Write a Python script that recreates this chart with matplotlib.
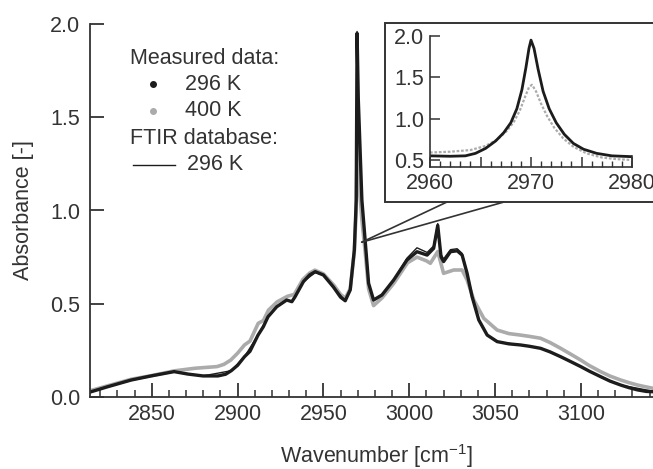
import matplotlib
matplotlib.use("Agg")
import matplotlib.pyplot as plt
from matplotlib.patches import Rectangle, ConnectionPatch
from matplotlib.lines import Line2D
from matplotlib.ticker import MultipleLocator

plt.rcParams['font.family'] = ['Liberation Sans', 'DejaVu Sans']
plt.rcParams['mathtext.fontset'] = 'custom'
plt.rcParams['mathtext.rm'] = 'Liberation Sans'

# ---- main spectrum ----
wn_296 = [2814.6, 2824.3, 2838, 2849.6, 2863, 2871, 2879.8, 2888.5, 2893, 2896.3, 2900, 2904,
          2907.2, 2911.9, 2915, 2917.7, 2922.8, 2928.6, 2931.6, 2933.5, 2938.3, 2942, 2945.2,
          2950, 2955.8, 2960, 2962.7, 2965.6, 2968, 2969.1, 2969.6, 2970.3, 2972.4, 2974.3,
          2976.3, 2979.2, 2984.1, 2990.9, 2998.7, 3004.5, 3010.4, 3014.2, 3016.6, 3018.5,
          3020, 3024, 3027.9, 3030.8, 3033.7, 3036.6, 3040.5, 3045.4, 3051.2, 3058, 3064.8,
          3070, 3076.5, 3082, 3088.2, 3094, 3099.9, 3105, 3111.5, 3117, 3123.2, 3128, 3133, 3138, 3142.5]
abs_296 = [0.028, 0.055, 0.091, 0.113, 0.136, 0.123, 0.113, 0.113, 0.122, 0.141, 0.17, 0.216,
           0.245, 0.332, 0.377, 0.43, 0.484, 0.52, 0.511, 0.538, 0.618, 0.655, 0.672,
           0.654, 0.59, 0.535, 0.516, 0.574, 0.788, 1.056, 1.95, 1.6, 1.056, 0.84,
           0.61, 0.52, 0.547, 0.627, 0.735, 0.779, 0.761, 0.797, 0.92, 0.752,
           0.726, 0.779, 0.784, 0.761, 0.663, 0.538, 0.413, 0.332, 0.297, 0.285, 0.279,
           0.272, 0.261, 0.242, 0.216, 0.19, 0.163, 0.138, 0.109, 0.085, 0.064, 0.05, 0.038, 0.03, 0.028]

wn_400 = [2814.6, 2824.3, 2838, 2850, 2863, 2875, 2888, 2892, 2896, 2900, 2904, 2907.2,
          2912, 2915, 2918, 2923, 2929, 2933, 2938, 2942, 2945, 2950, 2956, 2960,
          2962.7, 2965.6, 2968, 2969.1, 2969.7, 2970.4, 2972.4, 2974.3, 2976.3, 2979.2,
          2984, 2991, 2999, 3004.5, 3010, 3012.3, 3016.6, 3020, 3025.9, 3030.8,
          3033.7, 3037.6, 3043.4, 3051.2, 3058, 3064.8, 3070, 3076.5, 3082, 3088.2, 3094, 3099.9,
          3105, 3111.5, 3117, 3123.2, 3128, 3133, 3138, 3142.5]
abs_400 = [0.035, 0.06, 0.095, 0.115, 0.14, 0.154, 0.163, 0.175, 0.198, 0.235, 0.279, 0.30,
           0.395, 0.41, 0.466, 0.51, 0.54, 0.55, 0.63, 0.665, 0.68, 0.66, 0.60, 0.55,
           0.53, 0.58, 0.78, 1.0, 1.4, 1.2, 0.95, 0.78, 0.58, 0.49,
           0.53, 0.61, 0.72, 0.75, 0.73, 0.717, 0.78, 0.663, 0.681, 0.681,
           0.627, 0.52, 0.422, 0.359, 0.34, 0.332, 0.325, 0.315, 0.292, 0.261, 0.23, 0.198,
           0.168, 0.136, 0.112, 0.091, 0.077, 0.064, 0.054, 0.046]

wn_ftir = [2814.6, 2838, 2849.6, 2863, 2879.8, 2896.3, 2904, 2911.9, 2917.7, 2922.8,
           2928.6, 2931.6, 2933.5, 2938.3, 2945.2, 2950, 2955.8, 2962.7, 2965.6, 2968,
           2969.1, 2969.6, 2970.3, 2972.4, 2974.3, 2976.3, 2979.2, 2984.1, 2990.9, 2998.7,
           3004.5, 3010.4, 3014.2, 3016.6, 3018.5, 3020, 3024, 3027.9, 3030.8, 3033.7,
           3036.6, 3040.5, 3045.4, 3051.2, 3064.8, 3076.5, 3088.2, 3099.9, 3111.5, 3123.2,
           3142.5]
abs_ftir = [0.03, 0.09, 0.113, 0.136, 0.113, 0.141, 0.216, 0.332, 0.43, 0.484,
            0.52, 0.511, 0.538, 0.618, 0.667, 0.654, 0.59, 0.516, 0.574, 0.788,
            1.056, 1.96, 1.6, 1.056, 0.84, 0.61, 0.52, 0.547, 0.627, 0.745,
            0.80, 0.775, 0.81, 0.93, 0.765, 0.74, 0.79, 0.795, 0.77, 0.663,
            0.538, 0.413, 0.332, 0.297, 0.279, 0.261, 0.216, 0.163, 0.109, 0.064,
            0.03]

# ---- inset (zoom on the 2970 peak) ----
wn_in_296 = [2960, 2962, 2963.5, 2964.5, 2965.5, 2966.5, 2967.3, 2968, 2968.6, 2969.1,
             2969.5, 2969.8, 2970, 2970.3, 2970.7, 2971.2, 2971.8, 2972.5, 2973.3, 2974.2,
             2975.2, 2976.5, 2978, 2980]
abs_in_296 = [0.55, 0.545, 0.55, 0.58, 0.64, 0.73, 0.83, 0.95, 1.12, 1.35,
              1.62, 1.85, 1.95, 1.85, 1.60, 1.33, 1.12, 0.95, 0.81, 0.70,
              0.63, 0.58, 0.55, 0.54]
wn_in_400 = [2960, 2962, 2964, 2965.5, 2966.7, 2967.6, 2968.3, 2968.9, 2969.4, 2969.8,
             2970.1, 2970.5, 2971, 2971.6, 2972.3, 2973.2, 2974.2, 2975.5, 2977, 2978.5,
             2980]
abs_in_400 = [0.59, 0.60, 0.62, 0.67, 0.75, 0.85, 0.96, 1.10, 1.26, 1.38,
              1.41, 1.33, 1.18, 1.03, 0.89, 0.76, 0.66, 0.58, 0.53, 0.51,
              0.50]

BLACK = '#1c1c1c'
GRAY = '#ababab'
AX = '#333333'
FS = 15.5
W, H = 653, 469


def fx(px):
    return px / W


def fy(py):
    return 1 - py / H


fig = plt.figure(figsize=(6.53, 4.69), dpi=100)
ax = fig.add_axes([fx(90), fy(397), 1 - fx(90), fy(24) - fy(397)])

ax.plot(wn_400, abs_400, color=GRAY, lw=2.6, solid_joinstyle='round')
ax.plot(wn_296, abs_296, color=BLACK, lw=2.4, solid_joinstyle='round')
ax.plot(wn_ftir, abs_ftir, color=BLACK, lw=1.0)

ax.set_xlim(2814, 3142)
ax.set_ylim(0, 2.0)
ax.xaxis.set_major_locator(MultipleLocator(50))
ax.xaxis.set_minor_locator(MultipleLocator(10))
ax.yaxis.set_major_locator(MultipleLocator(0.5))
ax.yaxis.set_major_formatter(plt.FuncFormatter(lambda v, p: f"{v:.1f}"))
for s in ['top', 'right']:
    ax.spines[s].set_visible(False)
for s in ['left', 'bottom']:
    ax.spines[s].set_color(AX)
    ax.spines[s].set_linewidth(1.3)
ax.tick_params(which='major', direction='in', length=10, width=1.3, color=AX,
               labelsize=FS, labelcolor=AX, pad=5)
ax.tick_params(which='minor', direction='in', length=5, width=1.1, color=AX)
ax.tick_params(axis='y', pad=7)

fig.text(fx(23), fy(210), 'Absorbance [-]', rotation=90, ha='center', va='center',
         fontsize=FS, color=AX)
fig.text(fx(376), fy(456), 'Wavenumber [cm$^{-1}$]', ha='center', va='center',
         fontsize=FS, color=AX)

# legend drawn by hand
fig.text(fx(130), fy(58), 'Measured data:', ha='left', va='center', fontsize=FS, color=AX)
fig.text(fx(185), fy(84), '296 K', ha='left', va='center', fontsize=FS, color=AX)
fig.text(fx(185), fy(111), '400 K', ha='left', va='center', fontsize=FS, color=AX)
fig.text(fx(130), fy(138), 'FTIR database:', ha='left', va='center', fontsize=FS, color=AX)
fig.text(fx(187), fy(165), '296 K', ha='left', va='center', fontsize=FS, color=AX)
fig.add_artist(Line2D([fx(153)], [fy(84)], marker='o', ms=4, color=BLACK, lw=0))
fig.add_artist(Line2D([fx(153)], [fy(111)], marker='o', ms=4, color=GRAY, lw=0))
fig.add_artist(Line2D([fx(133), fx(175)], [fy(165), fy(165)], color=BLACK, lw=1.0))

# inset frame
box = Rectangle((fx(385), fy(202)), 1.1 - fx(385), fy(23) - fy(202),
                transform=fig.transFigure, facecolor='white', edgecolor=AX,
                lw=1.4, zorder=1)
fig.add_artist(box)
for xb in [447, 504]:
    con = ConnectionPatch(xyA=(2972.3, 0.83), coordsA=ax.transData,
                          xyB=(fx(xb), fy(202)), coordsB=fig.transFigure,
                          color=AX, lw=1.2, zorder=1)
    fig.add_artist(con)

ins = fig.add_axes([fx(430), fy(167), fx(632) - fx(430), fy(36) - fy(167)])
ins.set_zorder(2)
ins.patch.set_alpha(0)
ins.plot(wn_in_400, abs_in_400, color=GRAY, lw=1.6, ls=(0, (1.2, 0.8)))
ins.plot(wn_in_296, abs_in_296, color=BLACK, lw=2.0)
ins.set_xlim(2960, 2980)
ins.set_ylim(0.415, 2.0)
ins.xaxis.set_major_locator(MultipleLocator(5))
ins.xaxis.set_minor_locator(MultipleLocator(1))
ins.xaxis.set_major_formatter(plt.FuncFormatter(lambda v, p: f"{v:.0f}" if round(v) % 10 == 0 else ""))
ins.yaxis.set_major_locator(MultipleLocator(0.5))
ins.yaxis.set_major_formatter(plt.FuncFormatter(lambda v, p: f"{v:.1f}"))
ins.spines['top'].set_visible(False)
for s in ['left', 'bottom', 'right']:
    ins.spines[s].set_color(AX)
    ins.spines[s].set_linewidth(1.2)
ins.spines['right'].set_bounds(0.415, 0.55)
ins.tick_params(which='major', direction='in', length=7, width=1.1, color=AX,
                labelsize=FS, labelcolor=AX, pad=4)
ins.tick_params(which='minor', direction='in', length=4, width=1.0, color=AX)

fig.savefig('out.png', dpi=100)
